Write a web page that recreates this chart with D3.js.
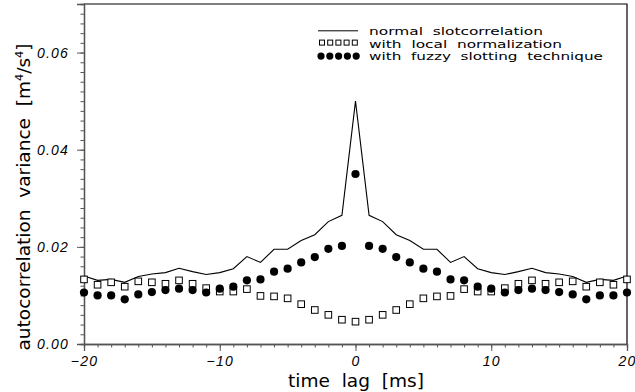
<!DOCTYPE html>
<html>
<head>
<meta charset="utf-8">
<script src="https://cdn.jsdelivr.net/npm/d3@7"></script>
<style>
  body { margin: 0; background: #fff; }
  svg { display: block; font-family: "DejaVu Sans", sans-serif; }
  .tick text { font-style: italic; font-size: 14px; letter-spacing: 1.2px; fill: #000; }
  .axis path, .axis line { stroke: #555; }
</style>
</head>
<body>
<svg id="viz" width="635" height="392"></svg>
<script>
// time lag in ms (x)
var lags = [-20, -19, -18, -17, -16, -15, -14, -13, -12, -11, -10, -9, -8, -7, -6, -5, -4, -3, -2, -1,
    0, 1, 2, 3, 4, 5, 6, 7, 8, 9, 10, 11, 12, 13, 14, 15, 16, 17, 18, 19, 20];

// normal slotcorrelation (line)
var normalSlot = [0.0140, 0.0131, 0.0133, 0.0127, 0.0139, 0.0144, 0.0147, 0.0156, 0.0149, 0.0143,
    0.0147, 0.0155, 0.0180, 0.0168, 0.0195, 0.0195, 0.0213, 0.0225, 0.0252, 0.0265,
    0.0500,
    0.0265, 0.0252, 0.0225, 0.0213, 0.0195, 0.0195, 0.0168, 0.0180, 0.0155, 0.0147,
    0.0143, 0.0149, 0.0156, 0.0147, 0.0144, 0.0139, 0.0127, 0.0133, 0.0131, 0.0140];

// with local normalization (open squares)
var localNorm = [0.0133, 0.0122, 0.0127, 0.0118, 0.0129, 0.0127, 0.0124, 0.0131, 0.0124, 0.0115,
    0.0108, 0.0108, 0.0113, 0.0099, 0.0098, 0.0094, 0.0082, 0.0070, 0.0060, 0.0050,
    0.0046,
    0.0050, 0.0060, 0.0070, 0.0082, 0.0094, 0.0098, 0.0099, 0.0113, 0.0108, 0.0108,
    0.0115, 0.0124, 0.0131, 0.0124, 0.0127, 0.0129, 0.0118, 0.0127, 0.0122, 0.0133];

// with fuzzy slotting technique (filled circles)
var fuzzySlot = [0.0106, 0.0100, 0.0100, 0.0092, 0.0102, 0.0107, 0.0111, 0.0114, 0.0111, 0.0106,
    0.0114, 0.0118, 0.0131, 0.0133, 0.0149, 0.0155, 0.0168, 0.0179, 0.0196, 0.0202,
    0.0350,
    0.0202, 0.0196, 0.0179, 0.0168, 0.0155, 0.0149, 0.0133, 0.0131, 0.0118, 0.0114,
    0.0106, 0.0111, 0.0114, 0.0111, 0.0107, 0.0102, 0.0092, 0.0100, 0.0100, 0.0106];

var xTicks = [-20, -10, 0, 10, 20];
var yTicks = [0, 0.02, 0.04, 0.06];
var legendLabels = ["normal  slotcorrelation", "with  local  normalization", "with  fuzzy  slotting  technique"];

var svg = d3.select("#viz"); //VARIABLES
var margin = { top: 4, right: 8, bottom: 48, left: 84 };
var w = 635 - margin.left - margin.right,
    h = 392 - margin.top - margin.bottom;

var xScale = d3.scaleLinear().domain([-20, 20]).range([margin.left, margin.left + w]), //SCALES
    yScale = d3.scaleLinear().domain([0, 0.07]).range([margin.top + h, margin.top]);

svg.append("rect").attr("width", 635).attr("height", 392).attr("fill", "#fff");

// frame top + right
svg.append("path")
    .attr("d", "M" + xScale(-20) + "," + yScale(0.07) + "H" + xScale(20) + "V" + yScale(0))
    .attr("fill", "none").attr("stroke", "#000").attr("stroke-width", 1.2);

// minor ticks first, then the labelled ones
svg.append("g")
    .attr("class", "axis")
    .attr("transform", "translate(0," + yScale(0) + ")")
    .call(d3.axisBottom(xScale).tickValues(d3.range(-20, 21, 1)).tickSize(3.5).tickFormat(""));
svg.append("g")
    .attr("class", "axis x")
    .attr("transform", "translate(0," + yScale(0) + ")")
    .call(d3.axisBottom(xScale).tickValues(xTicks).tickSize(7).tickPadding(2).tickFormat(d3.format("d")))
    .selectAll("text").attr("dy", "0.95em");

svg.append("g")
    .attr("class", "axis")
    .attr("transform", "translate(" + xScale(-20) + ",0)")
    .call(d3.axisLeft(yScale).tickValues(d3.range(0, 36).map(function (i) { return i * 0.002; })).tickSize(3.5).tickFormat(""));
svg.append("g")
    .attr("class", "axis y")
    .attr("transform", "translate(" + xScale(-20) + ",0)")
    .call(d3.axisLeft(yScale).tickValues(yTicks).tickSize(7).tickPadding(8).tickFormat(d3.format(".2f")));

d3.selectAll(".axis path").attr("stroke-width", 1.3);

//LINE
var line = d3.line()
    .x(function (d, i) { return xScale(lags[i]); })
    .y(function (d) { return yScale(d); });
svg.append("path")
    .datum(normalSlot)
    .attr("d", line)
    .attr("fill", "none")
    .attr("stroke", "#000")
    .attr("stroke-width", 1.1);

//SQUARES
svg.selectAll(".sq")
    .data(localNorm)
    .enter().append("rect")
    .attr("class", "sq")
    .attr("x", function (d, i) { return xScale(lags[i]) - 3.3; })
    .attr("y", function (d) { return yScale(d) - 3.3; })
    .attr("width", 6.6).attr("height", 6.6)
    .attr("fill", "#fff").attr("stroke", "#000").attr("stroke-width", 1);

//CIRCLES
svg.selectAll(".dot")
    .data(fuzzySlot)
    .enter().append("circle")
    .attr("class", "dot")
    .attr("cx", function (d, i) { return xScale(lags[i]); })
    .attr("cy", function (d) { return yScale(d); })
    .attr("r", 4.1)
    .attr("fill", "#000");

//LEGEND
var legend = svg.append("g");
var rowY = [34.8, 47.6, 60.4], rowLen = [174, 193, 234];
legend.append("line")
    .attr("x1", 318).attr("x2", 358).attr("y1", rowY[0] - 4).attr("y2", rowY[0] - 4)
    .attr("stroke", "#000").attr("stroke-width", 1);
legend.selectAll(".lsq").data([0, 1, 2, 3, 4]).enter().append("rect")
    .attr("x", function (d) { return 319.5 + d * 8.2; })
    .attr("y", rowY[1] - 7.5)
    .attr("width", 5).attr("height", 5)
    .attr("fill", "#fff").attr("stroke", "#000").attr("stroke-width", 1);
legend.selectAll(".ldot").data([0, 1, 2, 3, 4]).enter().append("circle")
    .attr("cx", function (d) { return 321 + d * 8.8; })
    .attr("cy", rowY[2] - 4.3)
    .attr("r", 3.6)
    .attr("fill", "#000");
legend.selectAll(".ltxt").data(legendLabels).enter().append("text")
    .attr("x", 369)
    .attr("y", function (d, i) { return rowY[i]; })
    .attr("textLength", function (d, i) { return rowLen[i]; })
    .attr("lengthAdjust", "spacingAndGlyphs")
    .style("white-space", "pre")
    .style("font-size", "11px")
    .text(function (d) { return d; });

//AXIS TITLES
svg.append("text")
    .attr("x", 356).attr("y", 387)
    .attr("text-anchor", "middle")
    .attr("textLength", 136).attr("lengthAdjust", "spacingAndGlyphs")
    .style("white-space", "pre")
    .style("font-size", "18px")
    .text("time  lag  [ms]");

var yLab = svg.append("text")
    .attr("transform", "translate(30,197) rotate(-90)")
    .attr("text-anchor", "middle")
    .attr("textLength", 307).attr("lengthAdjust", "spacingAndGlyphs")
    .style("white-space", "pre")
    .style("font-size", "18px");
yLab.append("tspan").text("autocorrelation  variance  [m");
yLab.append("tspan").attr("dy", -7).style("font-size", "11px").text("4");
yLab.append("tspan").attr("dy", 7).text("/s");
yLab.append("tspan").attr("dy", -7).style("font-size", "11px").text("4");
yLab.append("tspan").attr("dy", 7).text("]");
</script>
</body>
</html>
